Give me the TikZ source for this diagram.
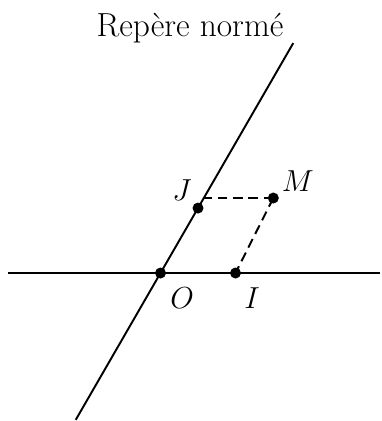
\documentclass[tikz,border=0pt]{standalone}
\usepackage{tikz}
\usetikzlibrary{positioning}

\begin{document}
\begin{tikzpicture}[x=1.5cm, y=1.5cm,
  font=\fontsize{19}{23}\selectfont,
  axe/.style={line width=1.1pt},
  dot/.style={circle, fill=black, inner sep=0pt, minimum size=2.2mm},
  pointille/.style={line width=1.1pt, dash pattern=on 5.5pt off 3.2pt},
  lbl/.style={inner sep=0pt}]
  \useasboundingbox (-2.14,-1.973) rectangle (2.94,3.64);
  % titre
  \node[anchor=base] (titre) at (0.393,3.147) {Repère normé};
  % axes
  \coordinate (xg) at (-2.033,0);
  \coordinate (xd) at (2.927,0);
  \coordinate (yb) at ({-2.26*cos(60)},{-2.26*sin(60)});
  \coordinate (yh) at ({3.54*cos(60)},{3.54*sin(60)});
  \draw[axe] (xg) -- (xd);
  \draw[axe] (yb) -- (yh);
  % points
  \node[dot] (O) at (0,0) {};
  \node[dot] (I) at (1,0) {};
  \node[dot] (J) at (60:1) {};
  \node[dot] (M) at (1.504,1) {};
  \coordinate (My) at ({1/tan(60)},1);
  \draw[pointille] (M.center) -- (My);
  \draw[pointille] (M.center) -- (I.center);
  % noms
  \node[lbl] (nO) at (0.287,-0.333) {$O$};
  \node[lbl] (nI) at (1.22,-0.333) {$I$};
  \node[lbl] (nJ) at (0.287,1.107) {$J$};
  \node[lbl] (nM) at (1.83,1.227) {$M$};
\end{tikzpicture}
\end{document}
